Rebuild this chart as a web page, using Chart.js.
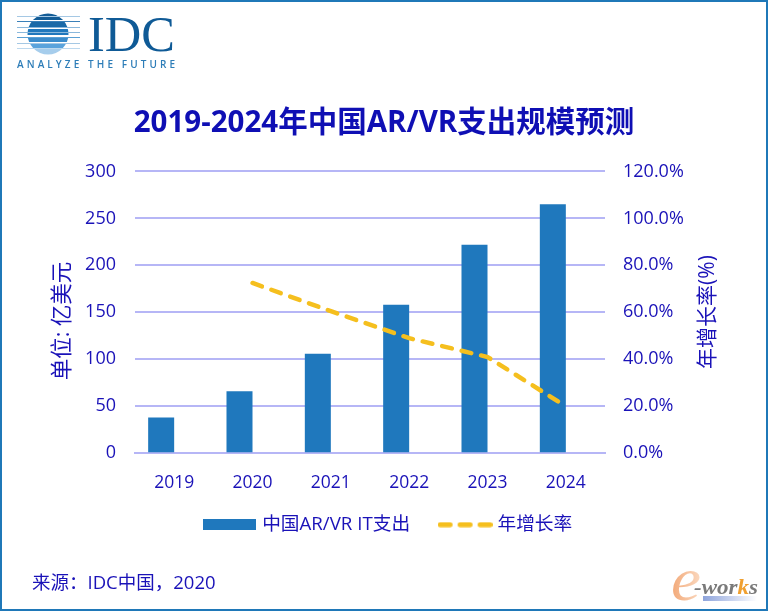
<!DOCTYPE html>
<html><head><meta charset="utf-8">
<script src="https://cdn.jsdelivr.net/npm/chart.js@4"></script>
<style>
html,body{margin:0;padding:0;background:#fff}
#wrap{position:relative;width:768px;height:611px;overflow:hidden}
#frame{position:absolute;left:0;top:0;width:768px;height:611px;box-sizing:border-box;border:2px solid #1f78b8;pointer-events:none}
canvas#c{position:absolute;left:0;top:0}
#src{position:absolute;left:32px;top:568px;font:18.5px "Open Sans","Noto Sans CJK SC";color:#1a12b8;white-space:nowrap}
svg.ov{position:absolute;left:0;top:0}
</style></head><body>
<div id="wrap">
<canvas id="c" width="768" height="611" style="width:768px;height:611px"></canvas>
<svg class="ov" width="768" height="611" xmlns="http://www.w3.org/2000/svg">
<defs>
<clipPath id="g"><circle cx="48" cy="34" r="20.5"/></clipPath>
<linearGradient id="eg" x1="0" x2="1" y1="0" y2="0"><stop offset="0" stop-color="#f2a877"/><stop offset="1" stop-color="#fbd9c0"/></linearGradient>
<linearGradient id="bg" x1="0" x2="1" y1="0" y2="0"><stop offset="0" stop-color="#8ea4dc"/><stop offset="1" stop-color="#ffffff"/></linearGradient>
</defs>
<g clip-path="url(#g)">
<rect x="27" y="13" width="42" height="7" fill="#135c96"/>
<rect x="27" y="22" width="42" height="5" fill="#1a6aa8"/>
<rect x="27" y="29" width="42" height="6" fill="#1f78bd"/>
<rect x="27" y="37" width="42" height="5" fill="#3a8ccc"/>
<rect x="27" y="44" width="42" height="4" fill="#5aa3dc"/>
<rect x="27" y="49" width="42" height="6" fill="#a6cdec"/>
</g>
<g stroke-width="1">
<path d="M17 16.5H80" stroke="#a5c8e4"/><path d="M17 21.5H80" stroke="#3a80b8"/><path d="M17 27.5H80" stroke="#8ab8dc"/><path d="M17 32.5H80" stroke="#8ab8dc"/><path d="M17 37.5H80" stroke="#5aa0d4"/><path d="M17 43.5H80" stroke="#a5c8e4"/><path d="M17 48.5H80" stroke="#bcd8ee"/>
</g>
<text x="88" y="51" font-family="Liberation Serif" font-size="50" fill="#0f5a96" textLength="87" lengthAdjust="spacingAndGlyphs">IDC</text>
<text x="17" y="68" font-family="Open Sans" font-size="10" font-weight="600" fill="#2d7db8" textLength="158">ANALYZE THE FUTURE</text>
<text x="671" y="600" font-family="Liberation Serif" font-style="italic" font-size="62" fill="url(#eg)" textLength="30" lengthAdjust="spacingAndGlyphs">e</text>
<text x="694" y="594" font-family="Liberation Serif" font-style="italic" font-weight="bold" font-size="21" fill="#7a7a7a" textLength="64" lengthAdjust="spacingAndGlyphs">-wor<tspan fill="#f0a030">k</tspan>s</text>
<rect x="703" y="596" width="54" height="5" fill="url(#bg)"/>
<text transform="translate(69 321) rotate(-90)" text-anchor="middle" font-family="Open Sans, Noto Sans CJK SC" font-size="21.5" fill="#1a12b8">单位: 亿美元</text>
<text transform="translate(714 312) rotate(-90)" text-anchor="middle" font-family="Open Sans, Noto Sans CJK SC" font-size="21" fill="#1a12b8">年增长率(%)</text>
</svg>
<div id="src">来源：IDC中国，2020</div>
<div id="frame"></div>
</div>
<script>
const categories = ['2019','2020','2021','2022','2023','2024'];
const spending = [38, 66, 106, 158, 222, 265];
const growth = [null, 72.5, 60.5, 49, 41, 20];
const leftTicksMax = 300, rightTicksMax = 120;
const INK = '#1a12b8', FF = '"Open Sans","Noto Sans CJK SC"';
const GRID = '#b6b6f6', BAR = '#1f78bd', LINE = '#f5bf1e';

function swatchBar(){const k=document.createElement('canvas');k.width=53;k.height=11;const x=k.getContext('2d');x.fillStyle=BAR;x.fillRect(0,0,53,11);return k;}
function swatchLine(){const k=document.createElement('canvas');k.width=55;k.height=6;const x=k.getContext('2d');x.strokeStyle=LINE;x.lineWidth=5;x.lineCap='round';x.setLineDash([10,10]);x.beginPath();x.moveTo(2.5,3);x.lineTo(55,3);x.stroke();return k;}

const shiftTitle = {id:'shiftTitle',afterLayout(ch){ch.titleBlock.left-=5.5;ch.titleBlock.right-=5.5;ch.scales.x.bottom+=14;}};

new Chart(document.getElementById('c'),{
  type:'bar',
  plugins:[shiftTitle],
  data:{labels:categories,datasets:[
    {type:'line',label:'年增长率',data:growth,yAxisID:'y2',borderColor:LINE,backgroundColor:LINE,borderWidth:4.5,borderDash:[10,10],borderCapStyle:'round',pointRadius:0,fill:false,tension:0,order:0,pointStyle:swatchLine()},
    {label:'中国AR/VR IT支出',data:spending,yAxisID:'y',backgroundColor:BAR,order:1,pointStyle:swatchBar()},
    {label:'',data:categories.map(()=>null),yAxisID:'y',backgroundColor:'rgba(0,0,0,0)',order:2}
  ]},
  options:{
    responsive:false,animation:false,
    layout:{padding:{left:11,right:0,top:0,bottom:67}},
    datasets:{bar:{categoryPercentage:0.664,barPercentage:1}},
    plugins:{
      title:{display:true,text:'2019-2024年中国AR/VR支出规模预测',color:'#0f0fb4',font:{family:FF,size:29.5,weight:'bold'},padding:{top:106,bottom:30}},
      legend:{position:'bottom',
        labels:{usePointStyle:true,pointStyleWidth:46,color:INK,font:{family:FF,size:18.7},padding:32,boxHeight:18,
          filter:i=>i.text!=='',
          sort:(a,b)=>b.datasetIndex-a.datasetIndex}},
      tooltip:{enabled:false}
    },
    scales:{
      x:{grid:{display:false},border:{color:GRID,width:2},
        ticks:{color:INK,font:{family:FF,size:17.5},padding:11,maxRotation:0},
        afterFit(s){s.height=30;}},
      y:{position:'left',min:0,max:leftTicksMax,
        ticks:{stepSize:50,color:INK,font:{family:FF,size:18},padding:19},
        grid:{color:GRID,lineWidth:2,drawTicks:false},border:{display:false},
        afterFit(s){s.width=124;}},
      y2:{position:'right',min:0,max:rightTicksMax,
        ticks:{stepSize:20,color:INK,font:{family:FF,size:18},padding:18,callback:v=>v.toFixed(1)+'%'},
        grid:{display:false,drawTicks:false},border:{display:false},
        afterFit(s){s.width=163;}}
    }
  }
});
</script>
</body></html>
